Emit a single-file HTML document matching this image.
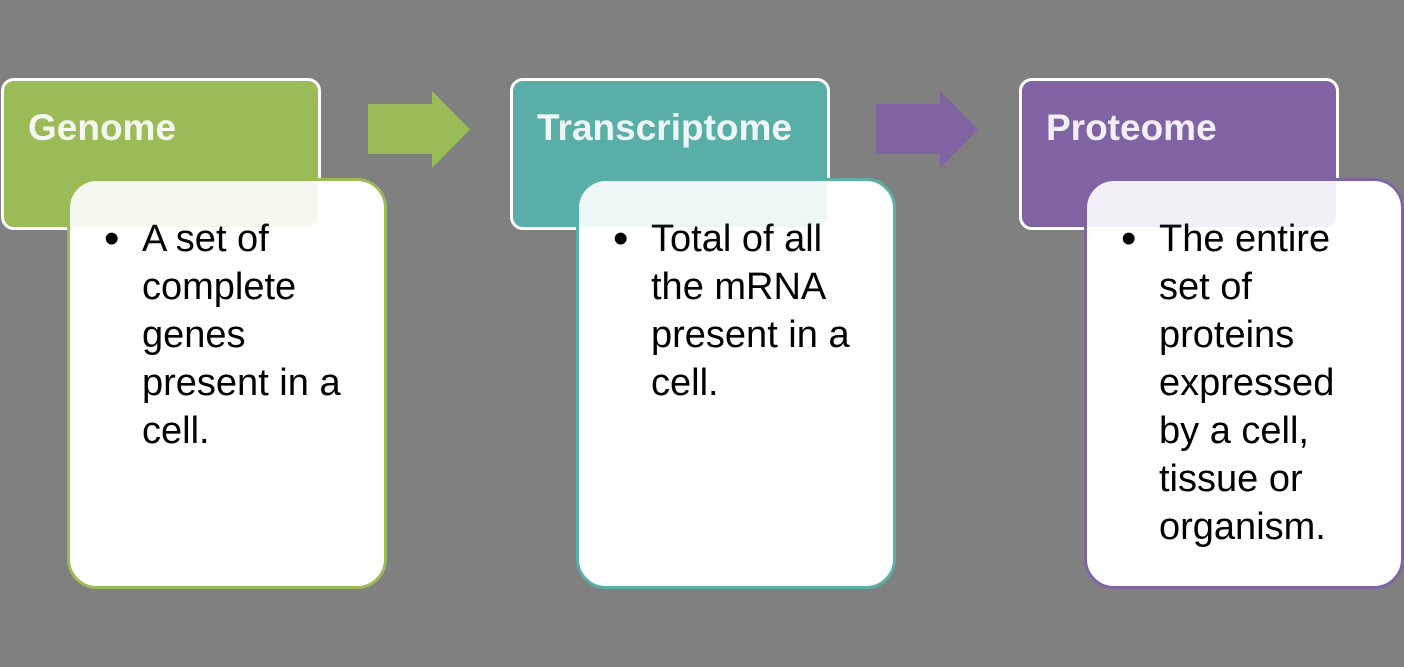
<!DOCTYPE html>
<html><head><style>
body{margin:0;width:1404px;height:667px;background:#808080;position:relative;overflow:hidden;font-family:"Liberation Sans",sans-serif}
.h{position:absolute;top:78px;width:314px;height:146px;border:3px solid #fff;border-radius:13px;box-sizing:content-box}
.h span{position:absolute;left:24px;top:26px;color:#fff;font-weight:bold;font-size:37px}
.g{position:absolute;top:81px;width:314px;height:146px;border-radius:11px;opacity:0.1}
.b{position:absolute;top:178px;width:314px;height:405px;border:3px solid;border-radius:30px;background:#fff}
.b ul{margin:0;padding:0;list-style:none;position:absolute;left:72px;top:34px;font-size:38px;line-height:48px;color:#000}
.b li::before{content:"•";position:absolute;left:-38px;font-size:44px}
</style></head><body>
<div class="h" style="left:1px;background:#9bbb59"><span>Genome</span></div>
<div class="h" style="left:510px;background:#5aafa9"><span>Transcriptome</span></div>
<div class="h" style="left:1019px;background:#8064a2"><span>Proteome</span></div>
<svg style="position:absolute;left:0;top:0" width="1404" height="667">
<polygon points="368,104 432,104 432,91 470,129.5 432,168 432,154 368,154" fill="#9bbb59"/>
<polygon points="876,104 940,104 940,91 978,129.5 940,168 940,154 876,154" fill="#8064a2"/>
</svg>
<div class="b" style="left:67px;border-color:#9bbb59"><ul><li>A set of<br>complete<br>genes<br>present in a<br>cell.</li></ul></div>
<div class="b" style="left:576px;border-color:#5aafa9"><ul><li>Total of all<br>the mRNA<br>present in a<br>cell.</li></ul></div>
<div class="b" style="left:1084px;border-color:#8064a2"><ul><li>The entire<br>set of<br>proteins<br>expressed<br>by a cell,<br>tissue or<br>organism.</li></ul></div>
<div class="g" style="left:4px;background:#9bbb59"></div>
<div class="g" style="left:513px;background:#5aafa9"></div>
<div class="g" style="left:1022px;background:#8064a2"></div>
</body></html>
